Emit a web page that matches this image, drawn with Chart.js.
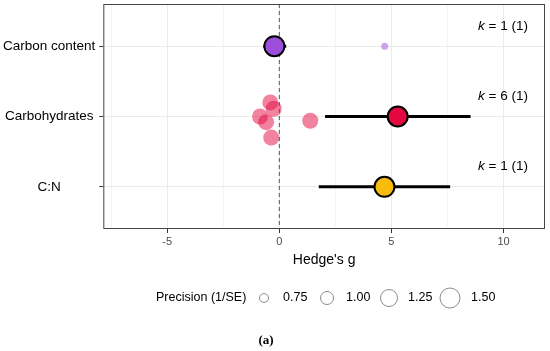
<!DOCTYPE html>
<html>
<head>
<meta charset="utf-8">
<script src="https://cdn.jsdelivr.net/npm/chart.js@4"></script>
<style>
  html, body { margin: 0; padding: 0; background: #fff; }
  #wrap { width: 550px; height: 351px; }
</style>
</head>
<body>
<div id="wrap"><canvas id="c"></canvas></div>
<script>
// ── Data ─────────────────────────────────────────────────────────────────────

const categories = ['Carbon content', 'Carbohydrates', 'C:N'];
const catColors = ['#9b4edc', '#e3083f', '#f8bd0c'];

// summary estimate and confidence interval per category
const summaryG = [-0.22, 5.28, 4.69];
const ciLow = [-0.71, 2.04, 1.76];
const ciHigh = [0.31, 8.53, 7.62];
const kLabels = ['1 (1)', '6 (1)', '1 (1)'];

// individual studies: category index, effect, jittered position, precision
const studyCat = [0, 1, 1, 1, 1, 1, 1];
const studyG = [4.70, -0.40, -0.25, -0.86, -0.59, -0.36, 1.38];
const studyJitter = [0, -0.20, -0.11, 0.00, 0.08, 0.30, 0.06];
const studyRadius = [3.5, 8, 8, 8, 8, 8, 8];

const xTicks = [-7.5, -5, -2.5, 0, 2.5, 5, 7.5, 10];
const precisionLabels = ['0.75', '1.00', '1.25', '1.50'];
const precisionRadius = [4.5, 6.5, 8.5, 10];

// ── Helpers ──────────────────────────────────────────────────────────────────

function hexToRgba(hex, alpha) {
    const r = parseInt(hex.slice(1, 3), 16);
    const g = parseInt(hex.slice(3, 5), 16);
    const b = parseInt(hex.slice(5, 7), 16);
    return `rgba(${r}, ${g}, ${b}, ${alpha})`;
}

const FONT = '"Liberation Sans", Arial, sans-serif';

// drop the label-overhang padding that Chart.js adds around each axis
function noOverhang(scale) {
    scale.paddingTop = 0;
    scale.paddingBottom = 0;
    scale.paddingLeft = 0;
    scale.paddingRight = 0;
}

// ── Datasets ─────────────────────────────────────────────────────────────────

const summaryDs = {
    type: 'scatter',
    data: summaryG.map((g, i) => ({ x: g, y: i + 1 })),
    pointRadius: 10,
    pointHoverRadius: 10,
    pointBackgroundColor: catColors,
    pointBorderColor: '#000',
    pointBorderWidth: 2,
    order: 0,
};

const ciDs = categories.map((_, i) => ({
    type: 'line',
    data: [{ x: ciLow[i], y: i + 1 }, { x: ciHigh[i], y: i + 1 }],
    borderColor: '#000',
    borderWidth: 3,
    pointRadius: 0,
    order: 1,
}));

const studyDs = {
    type: 'scatter',
    data: studyG.map((g, i) => ({ x: g, y: studyCat[i] + 1 + studyJitter[i] })),
    pointRadius: studyRadius,
    pointBackgroundColor: studyCat.map(c => hexToRgba(catColors[c], 0.5)),
    pointBorderWidth: 0,
    order: 2,
};

const zeroDs = {
    type: 'line',
    data: [{ x: 0, y: 0.4 }, { x: 0, y: 3.6 }],
    borderColor: '#555',
    borderWidth: 1,
    borderDash: [4, 3],
    pointRadius: 0,
    order: 3,
};

// ── Plugins: panel box, k labels, size legend, caption ───────────────────────

const decorations = {
    id: 'decorations',
    afterDatasetsDraw(chart) {
        const { ctx, chartArea: a, scales } = chart;
        ctx.save();
        ctx.strokeStyle = '#444';
        ctx.lineWidth = 1;
        ctx.strokeRect(a.left + 0.5, a.top + 0.5, a.right - a.left - 1, a.bottom - a.top - 1);

        // k = n (m) annotations
        ctx.fillStyle = '#000';
        ctx.textBaseline = 'middle';
        kLabels.forEach((txt, i) => {
            const y = scales.y.getPixelForValue(i + 1 - 0.29);
            const right = a.right - 17;
            ctx.font = `13.5px ${FONT}`;
            const rest = ' = ' + txt;
            const wRest = ctx.measureText(rest).width;
            ctx.textAlign = 'right';
            ctx.fillText(rest, right, y);
            ctx.font = `italic 13.5px ${FONT}`;
            ctx.fillText('k', right - wRest, y);
        });
        ctx.restore();
    },
    afterDraw(chart) {
        const { ctx } = chart;
        ctx.save();
        ctx.fillStyle = '#000';
        ctx.textBaseline = 'middle';
        ctx.textAlign = 'left';
        ctx.font = `12.5px ${FONT}`;
        const ly = 298;
        ctx.fillText('Precision (1/SE)', 156, ly);
        const cx = [264, 327, 389, 450];
        const tx = [283, 346, 408, 471];
        precisionLabels.forEach((lab, i) => {
            ctx.beginPath();
            ctx.arc(cx[i], ly, precisionRadius[i], 0, Math.PI * 2);
            ctx.strokeStyle = '#8c8c8c';
            ctx.lineWidth = 1;
            ctx.stroke();
            ctx.fillText(lab, tx[i], ly);
        });
        ctx.font = `bold 13px "Liberation Serif", "Times New Roman", serif`;
        ctx.textAlign = 'center';
        ctx.fillText('(a)', 266, 341);
        ctx.restore();
    },
};

// ── Chart ────────────────────────────────────────────────────────────────────

new Chart(document.getElementById('c'), {
    data: { datasets: [summaryDs, ...ciDs, studyDs, zeroDs] },
    plugins: [decorations],
    options: {
        responsive: true,
        maintainAspectRatio: false,
        animation: false,
        layout: { autoPadding: false, padding: { top: 4, right: 5, bottom: 82, left: -1 } },
        plugins: {
            legend: { display: false },
            tooltip: { enabled: false },
        },
        scales: {
            x: {
                type: 'linear',
                min: -7.85,
                max: 11.85,
                afterBuildTicks: scale => { scale.ticks = xTicks.map(v => ({ value: v })); },
                afterFit: noOverhang,
                ticks: {
                    autoSkip: false,
                    maxRotation: 0,
                    color: '#4d4d4d',
                    font: { family: FONT, size: 11 },
                    padding: 2,
                    callback: v => (v % 5 === 0 ? String(v) : ''),
                },
                grid: {
                    color: ctx => (ctx.tick && ctx.tick.value % 5 === 0 ? '#ebebeb' : '#f5f5f5'),
                    tickColor: ctx => (ctx.tick && ctx.tick.value % 5 === 0 ? '#333' : 'rgba(0,0,0,0)'),
                    tickLength: 4,
                },
                border: { display: false },
                title: {
                    display: true,
                    text: "Hedge's g",
                    color: '#000',
                    font: { family: FONT, size: 14 },
                    padding: { top: 2, bottom: 0 },
                },
            },
            y: {
                type: 'linear',
                min: 0.4,
                max: 3.6,
                reverse: true,
                afterBuildTicks: scale => { scale.ticks = [1, 2, 3].map(v => ({ value: v })); },
                afterFit: noOverhang,
                ticks: {
                    autoSkip: false,
                    color: '#000',
                    crossAlign: 'center',
                    font: { family: FONT, size: 13.5 },
                    padding: 4,
                    callback: v => categories[v - 1],
                },
                grid: {
                    color: '#ebebeb',
                    tickColor: '#333',
                    tickLength: 4,
                },
                border: { display: false },
            },
        },
    },
});
</script>
</body>
</html>
